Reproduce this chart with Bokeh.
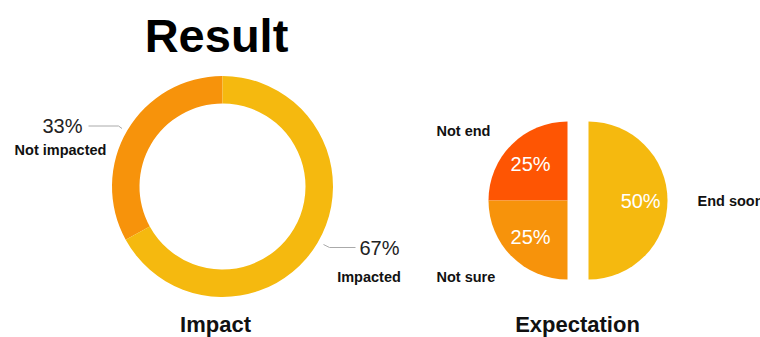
import math
from bokeh.plotting import figure
from bokeh.models import Range1d
from bokeh.core.properties import value
from bokeh.embed import file_html
from bokeh.resources import INLINE

# ---- data ----
title_text = "Result"
impact_title = "Impact"
impact_labels = ["Not impacted", "Impacted"]
impact_values = [33, 67]
impact_colors = ["#F7930B", "#F5B90F"]

expect_title = "Expectation"
expect_labels = ["Not end", "Not sure", "End soon"]
expect_values = [25, 25, 50]
expect_colors = ["#FE5503", "#F7930B", "#F5B90F"]

W, H = 760, 337
FONT = "Liberation Sans"


def Y(py):
    return H - py


p = figure(width=W, height=H, output_backend="svg", toolbar_location=None,
           x_range=Range1d(0, W), y_range=Range1d(0, H),
           min_border=0, min_border_left=0, min_border_right=0,
           min_border_top=0, min_border_bottom=0)
p.axis.visible = False
p.grid.visible = False
p.outline_line_color = None
p.background_fill_color = "white"

# ---- donut (Impact) ----
dcx, dcy = 222, Y(186)
r_out, r_in = 110.5, 83
tot = sum(impact_values)
starts, ends = [], []
a = math.pi / 2
for v in impact_values:
    starts.append(a)
    a += 2 * math.pi * v / tot
    ends.append(a)
p.annular_wedge(x=dcx, y=dcy, inner_radius=r_in, outer_radius=r_out,
                start_angle=starts, end_angle=ends, direction="anticlock",
                fill_color=impact_colors, line_color=None)

# leader lines
p.line(x=[88, 118, 121.5], y=[Y(125.5), Y(125.5), Y(128)], line_color="#AAAAAA", line_width=1)
p.line(x=[323, 329, 355], y=[Y(244), Y(247), Y(247)], line_color="#AAAAAA", line_width=1)


def txt(x, y, s, size, bold=False, align="left", color="#111111"):
    p.text(x=[x], y=[y], text=[s], text_font=value(FONT),
           text_font_size=f"{size}px", text_font_style="bold" if bold else "normal",
           text_align=align, text_baseline="middle", text_color=color)


txt(62, Y(125.5), f"{impact_values[0]}%", 20, align="center", color="#222222")
txt(60, Y(149), impact_labels[0], 14.5, bold=True, align="center")
txt(379, Y(247.5), f"{impact_values[1]}%", 20, align="center", color="#222222")
txt(368.5, Y(276), impact_labels[1], 14.5, bold=True, align="center")

# ---- exploded pie (Expectation) ----
pcx, pcy = 577.5, Y(200)
pr = 79
gap = 10.5
etot = sum(expect_values)
a = math.pi / 2
for v, c in zip(expect_values, expect_colors):
    s = a
    e = a + 2 * math.pi * v / etot
    a = e
    mid = (s + e) / 2
    dx = gap if math.cos(mid) > 0 else -gap
    cx = pcx + dx
    p.wedge(x=cx, y=pcy, radius=pr, start_angle=s, end_angle=e,
            direction="anticlock", fill_color=c, line_color=None)
    lx = cx + 0.66 * pr * math.cos(mid)
    ly = pcy + 0.66 * pr * math.sin(mid)
    txt(lx, ly, f"{v}%", 20, align="center", color="white")

txt(436, Y(130), expect_labels[0], 14.5, bold=True)
txt(436, Y(276), expect_labels[1], 14.5, bold=True)
txt(697, Y(200), expect_labels[2], 14.5, bold=True)

# ---- titles ----
txt(216, Y(34.5), title_text, 47, bold=True, align="center", color="#000000")
txt(215, Y(324), impact_title, 22, bold=True, align="center")
txt(577, Y(324), expect_title, 22, bold=True, align="center")

open("out.html", "w").write(file_html(p, INLINE))
